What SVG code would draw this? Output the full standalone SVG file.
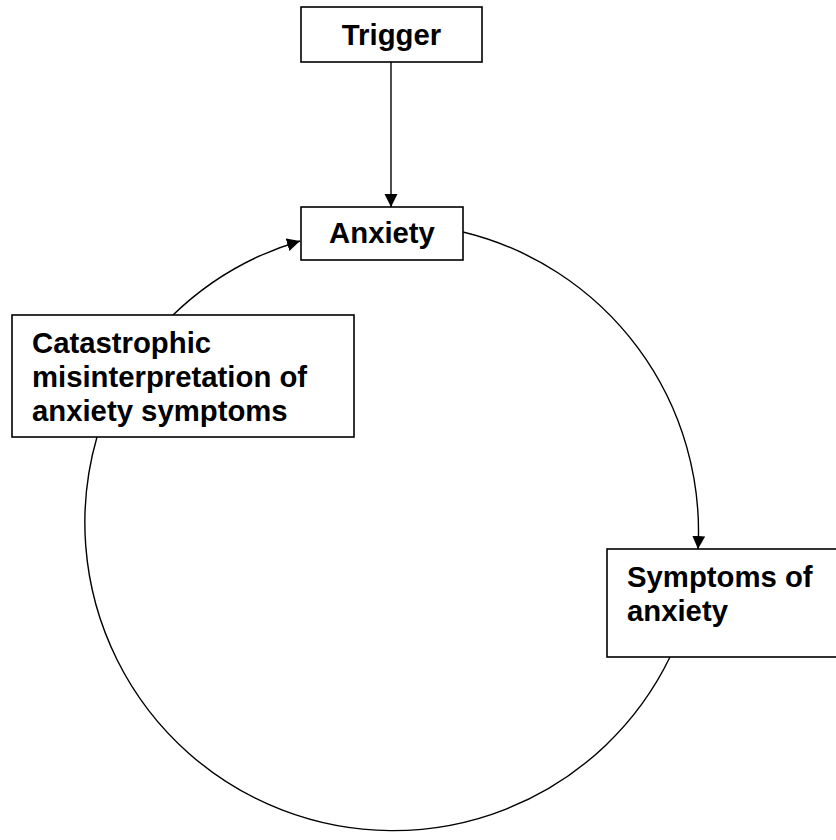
<svg xmlns="http://www.w3.org/2000/svg" width="836" height="840" viewBox="0 0 836 840">
<style>
.box{fill:#fff;stroke:#000;stroke-width:1.6}
.lbl{font-family:"Liberation Sans",Arial,sans-serif;font-weight:bold;font-size:29.3px;fill:#000}
.conn{fill:none;stroke:#000;stroke-width:1.4}
</style>
<defs>
<marker id="arr" markerUnits="userSpaceOnUse" markerWidth="14" markerHeight="14" refX="13" refY="6.5" orient="auto">
<path d="M0,0 L13,6.5 L0,13 z" fill="#000"/>
</marker>
</defs>
<rect width="836" height="840" fill="#fff"/>
<g id="connectors">
<line class="conn" x1="391" y1="62" x2="391" y2="207" marker-end="url(#arr)"/>
<path class="conn" d="M463,232 A308,308 0 0 1 698,549" marker-end="url(#arr)"/>
<path class="conn" d="M670,657 A308,308 0 0 1 97,437"/>
<path class="conn" d="M173,315 A308,308 0 0 1 300,241" marker-end="url(#arr)"/>
</g>
<g id="trigger">
<rect class="box" x="301" y="7" width="181" height="55"/>
<text class="lbl" x="391.5" y="45" text-anchor="middle">Trigger</text>
</g>
<g id="anxiety">
<rect class="box" x="301" y="207" width="162" height="53"/>
<text class="lbl" x="382" y="243" text-anchor="middle">Anxiety</text>
</g>
<g id="catastrophic">
<rect class="box" x="12" y="315" width="342" height="122"/>
<text class="lbl" x="32" y="353">Catastrophic</text>
<text class="lbl" x="32" y="387">misinterpretation of</text>
<text class="lbl" x="32" y="421">anxiety symptoms</text>
</g>
<g id="symptoms">
<rect class="box" x="607" y="549" width="240" height="108"/>
<text class="lbl" x="627" y="587">Symptoms of</text>
<text class="lbl" x="627" y="621">anxiety</text>
</g>
</svg>
